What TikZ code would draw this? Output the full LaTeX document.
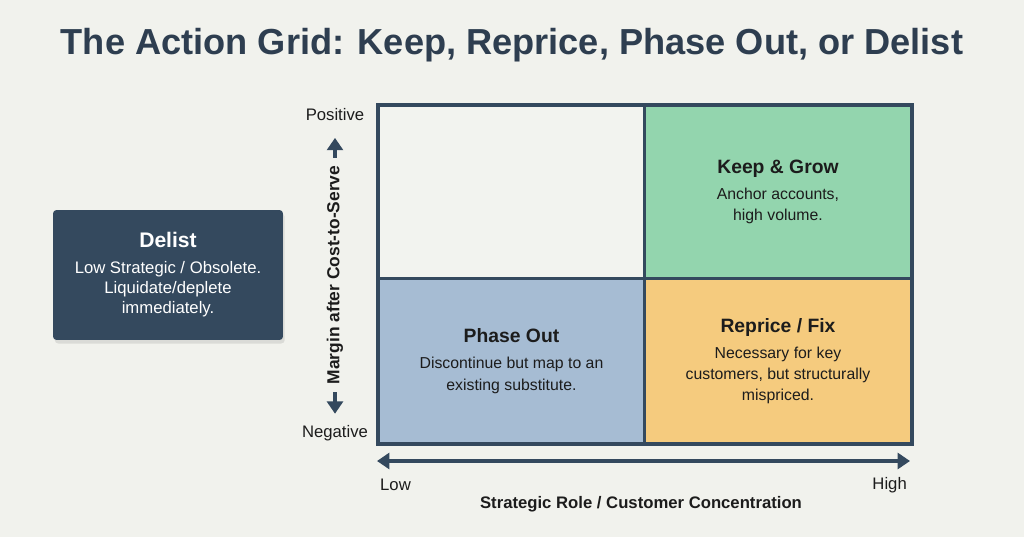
\documentclass[tikz,border=0pt]{standalone}
\usepackage{fontspec}
\setmainfont{Liberation Sans}
\usepackage{xcolor}
\usetikzlibrary{arrows.meta,positioning,shadows}
\definecolor{bgpaper}{HTML}{F1F2ED}
\definecolor{slate}{HTML}{34495E}
\definecolor{titleslate}{HTML}{2E3E50}
\definecolor{cellgreen}{HTML}{93D5AE}
\definecolor{cellblue}{HTML}{A6BCD3}
\definecolor{cellorange}{HTML}{F5CB7E}
\definecolor{cellblank}{HTML}{F2F3EF}
\definecolor{inktext}{HTML}{1C1C1C}

\begin{document}
\begin{tikzpicture}[x=0.02cm, y=-0.02cm, >={Triangle[width=9pt,length=7pt]},
  every node/.style={font=\fontsize{9}{12}\selectfont, text=inktext},
  cell/.style={draw=slate, line width=1.7pt, anchor=north west, align=center, inner sep=0pt},
  axlabel/.style={font=\fontsize{9.5}{12}\selectfont},
  axarrow/.style={draw=slate, line width=2.4pt, ->}]
\fill[bgpaper] (0,0) rectangle (1024,537);
\useasboundingbox (0,0) rectangle (1024,537);
\node[font=\bfseries\fontsize{20.6}{25}\selectfont, text=titleslate] (title) at (512,45) {The Action Grid: Keep, Reprice, Phase Out, or Delist};
% quadrants
\node[cell,fill=cellblank,minimum width=5.32cm,minimum height=3.46cm] (empty) at (377,104) {};
\node[cell,fill=cellgreen,minimum width=5.34cm,minimum height=3.46cm] (keep) at (643,104) {{\bfseries\fontsize{11}{14}\selectfont Keep \& Grow}\\[3pt] Anchor accounts,\\ high volume.};
\node[cell,fill=cellblue,minimum width=5.32cm,minimum height=3.3cm] (phase) at (377,277) {{\bfseries\fontsize{11}{14}\selectfont Phase Out}\\[3pt] Discontinue but map to an\\ existing substitute.};
\node[cell,fill=cellorange,minimum width=5.34cm,minimum height=3.3cm] (reprice) at (643,277) {{\bfseries\fontsize{11}{14}\selectfont Reprice / Fix}\\[3pt] Necessary for key\\ customers, but structurally\\ mispriced.};
\draw[slate, line width=1.7pt] (empty.north west) rectangle (reprice.south east);
% delist
\node[fill=slate,rounded corners=2pt,minimum width=4.6cm,minimum height=2.6cm,align=center,text=white,
  font=\fontsize{9.5}{11.5}\selectfont,
  drop shadow={opacity=0.2,shadow xshift=1pt,shadow yshift=-2pt}] (delist) at (168,275)
  {{\bfseries\fontsize{12}{15}\selectfont Delist}\\[3pt] Low Strategic / Obsolete.\\ Liquidate/deplete\\ immediately.};
% vertical axis
\node[axlabel] (pos) at (335,115) {Positive};
\node[axlabel] (neg) at (335,433) {Negative};
\node[font=\bfseries\fontsize{9.9}{12}\selectfont,rotate=90] (ylab) at (335,275) {Margin after Cost-to-Serve};
\draw[axarrow,shorten <=1pt,shorten >=6pt] (ylab.east) -- (pos.south);
\draw[axarrow,shorten <=1pt,shorten >=3pt] (ylab.west) -- (neg.north);
% horizontal axis
\coordinate (xlo) at (377,461);
\coordinate (xhi) at (910,461);
\draw[axarrow,<->] (xlo) -- (xhi);
\node[axlabel,anchor=west] (low) at (374,485) {Low};
\node[axlabel,anchor=east] (high) at (913,485) {High};
\node[font=\bfseries\fontsize{9.5}{12}\selectfont] (xlab) at (641,504) {Strategic Role / Customer Concentration};
\end{tikzpicture}
\end{document}
